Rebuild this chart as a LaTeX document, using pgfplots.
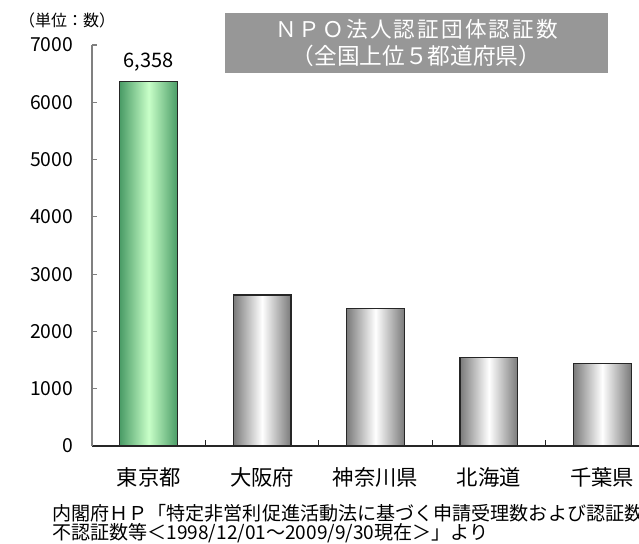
\documentclass[border=0pt]{standalone}
\usepackage{fontspec}
\setmainfont{Noto Sans CJK JP}
\usepackage{pgfplots}
\pgfplotsset{compat=1.18}
\definecolor{axgray}{HTML}{808080}
\definecolor{titlegray}{HTML}{979797}
\definecolor{grnD}{HTML}{4A9C66}
\definecolor{grnL}{HTML}{C8FFC8}
\definecolor{gryD}{HTML}{7A7A7A}
\pgfplotsset{graybar/.style={ybar, bar width=0.51, bar shift=0pt, draw=black!85, line width=1pt,
  left color=gryD, right color=gryD, middle color=white}}
\begin{document}
\begin{tikzpicture}
\useasboundingbox (0,0) rectangle (479.25pt,-407.25pt);
\begin{axis}[
  at={(69pt,-334.5pt)}, anchor=south west,
  scale only axis, width=410.25pt, height=300.75pt,
  xmin=-0.5, xmax=4.324, ymin=0, ymax=7000,
  axis x line*=bottom, axis y line*=left,
  x axis line style={draw=black!85, line width=0.8pt},
  y axis line style={draw=axgray, line width=0.8pt},
  tick align=inside,
  major tick length=3.75pt, minor tick length=4.5pt,
  ytick={0,1000,...,7000},
  every major y tick/.append style={draw=axgray, line width=0.8pt},
  xtick={0,1,2,3,4},
  xticklabels={東京都,大阪府,神奈川県,北海道,千葉県},
  minor xtick={0.5,1.5,2.5,3.5},
  every major x tick/.append style={draw=none},
  every minor x tick/.append style={draw=black!85, line width=0.8pt},
  /pgf/number format/assume math mode=true,
  /pgf/number format/1000 sep={},
  scaled y ticks=false,
  yticklabel style={inner sep=0pt, anchor=east, xshift=-14pt, font=\fontsize{14.5}{16}\selectfont},
  xticklabel style={inner sep=0pt, anchor=center, yshift=-23.6pt, font=\fontsize{16}{18}\selectfont},
  clip=false,
]
\addplot[ybar, bar width=0.51, bar shift=0pt, draw=black!85, line width=1pt,
  left color=grnD, right color=grnD, middle color=grnL,
  nodes near coords={6,358},
  nodes near coords style={anchor=center, inner sep=0pt, yshift=15pt, text=black, font=\fontsize{15}{17}\selectfont}]
  coordinates {(0,6358)};
\addplot[graybar] coordinates {(1,2636)};
\addplot[graybar] coordinates {(2,2404)};
\addplot[graybar] coordinates {(3,1542)};
\addplot[graybar] coordinates {(4,1437)};
\end{axis}
\node[anchor=center, inner sep=0pt, font=\fontsize{12}{14}\selectfont] at (50.25pt,-15.6pt) {（単位：数）};
\fill[titlegray] (168.75pt,-9.75pt) rectangle (456pt,-54.5pt);
\node[anchor=center, inner sep=0pt, text=white, font=\fontsize{16.2}{18}\selectfont\addfontfeature{LetterSpace=10}] at (312.4pt,-22.1pt) {ＮＰＯ法人認証団体認証数};
\node[anchor=center, inner sep=0pt, text=white, font=\fontsize{17}{19}\selectfont] at (312.4pt,-42pt) {（全国上位５都道府県）};
\node[anchor=west, inner sep=0pt, font=\fontsize{14.3}{16}\selectfont] at (39pt,-385.1pt) {内閣府ＨＰ「特定非営利促進活動法に基づく申請受理数および認証数、};
\node[anchor=west, inner sep=0pt, font=\fontsize{14.3}{16}\selectfont] at (39pt,-399.75pt) {不認証数等＜1998/12/01～2009/9/30現在＞」より};
\end{tikzpicture}
\end{document}
